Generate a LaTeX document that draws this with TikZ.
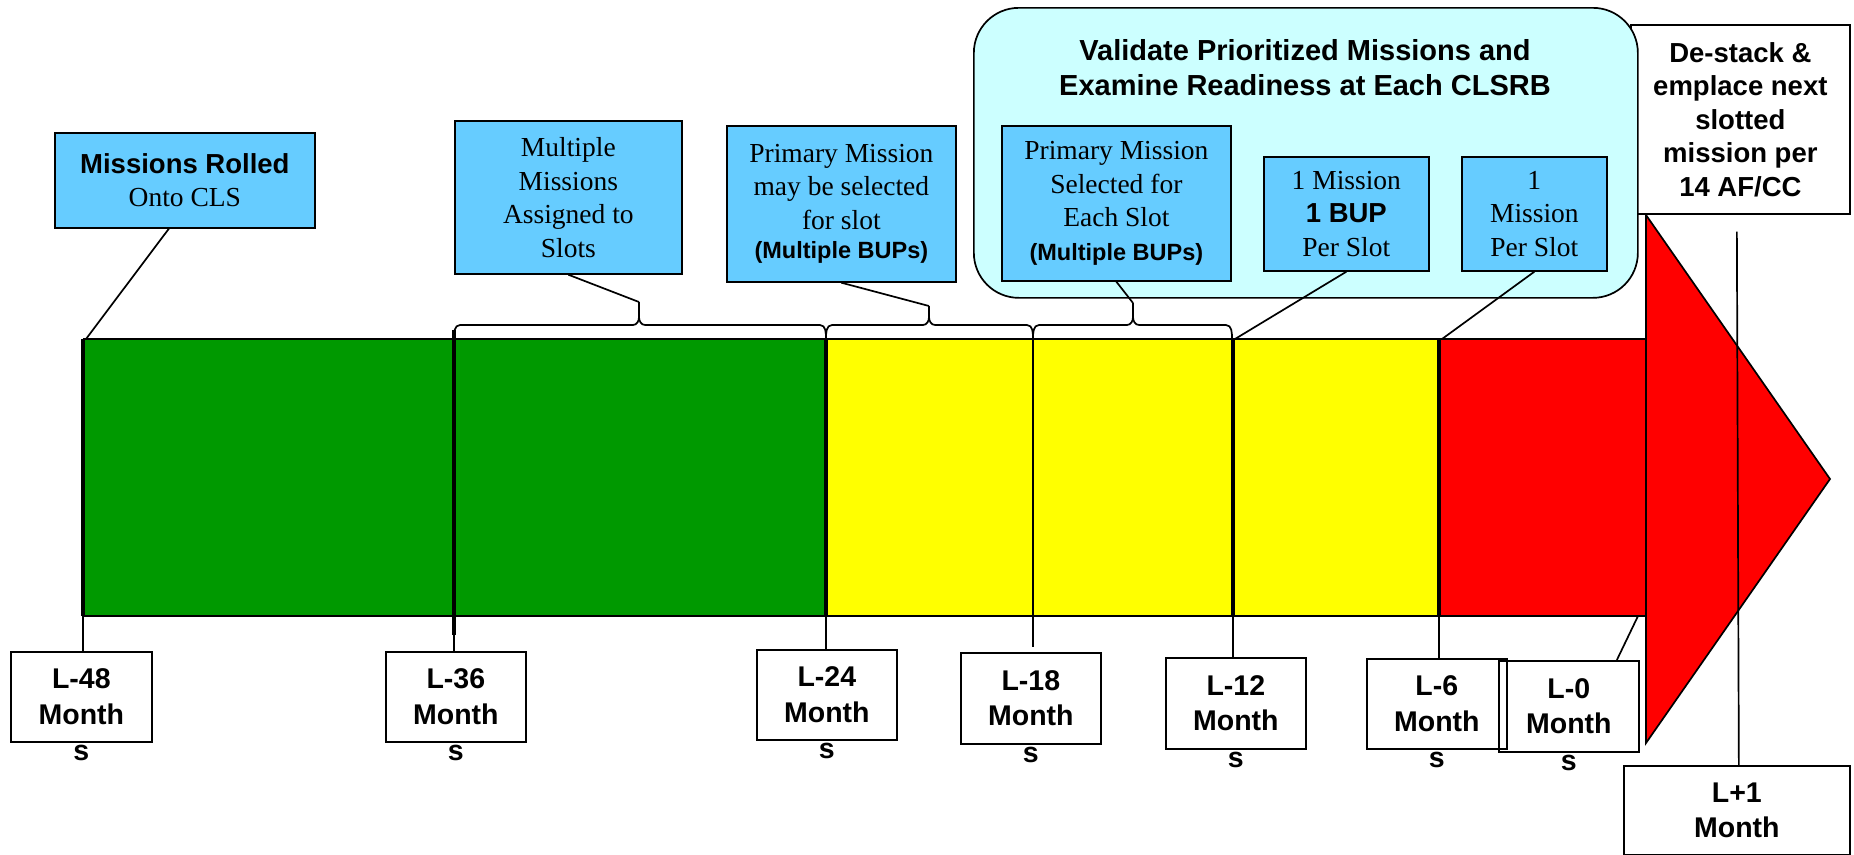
\documentclass[tikz,border=0pt]{standalone}
\usepackage{fontspec}
\setmainfont{Liberation Serif}
\setsansfont{Liberation Sans}
\definecolor{barGreen}{HTML}{009900}
\definecolor{barYellow}{HTML}{FFFF00}
\definecolor{barRed}{HTML}{FF0000}
\definecolor{boxBlue}{HTML}{66CCFF}
\definecolor{boxCyan}{HTML}{CCFFFF}
\newcommand\bsf{\sffamily\bfseries}
% brace: left x, right x, tip x, tip coordinate name
\newcommand\tlbrace[4]{%
  \draw[conn] (#1,339) to[out=90,in=180] (#1+6,325) -- (#3-6,325) to[out=0,in=-90] (#3,317) -- (#4);
  \draw[conn] (#2,339) to[out=90,in=0] (#2-6,325) -- (#3+6,325) to[out=180,in=-90] (#3,317);}
\begin{document}
\begin{tikzpicture}[x=1pt,y=-1pt,
  outl/.style={line width=1.7pt},
  conn/.style={line width=1.7pt},
  thicktick/.style={line width=3.8pt},
  bluebox/.style={draw, fill=boxBlue, outl, inner sep=0pt, align=center, anchor=north west,
    font=\fontsize{27.5}{33.5}\selectfont},
  tickbox/.style={draw, outl, inner sep=0pt, align=center, anchor=north west,
    minimum width=140pt, minimum height=90pt, font=\bsf\fontsize{28.5}{35.5}\selectfont},
  sfx/.style={label={[inner sep=0pt, label distance=2pt, font=\bsf\fontsize{28.5}{35.5}\selectfont]below:s}},
  bups/.style={font=\bsf\fontsize{23.5}{33.5}\selectfont}]
\useasboundingbox (0,0) rectangle (1854,854);

% tick positions on bar top
\coordinate (k48) at (83,339);
\coordinate (k36) at (454,339);
\coordinate (k24) at (826,339);
\coordinate (k18) at (1033,339);
\coordinate (k12) at (1233,339);
\coordinate (k6) at (1439,339);
\coordinate (kend) at (1645,339);
\coordinate (bb) at (0,616);

% bar
\fill[barGreen] (k48) rectangle (k24 |- bb);
\fill[barYellow] (k24) rectangle (k6 |- bb);
\fill[barRed] (k6) rectangle (kend |- bb);
\draw[outl] (k48) -- (kend);
\draw[outl] (k48 |- bb) -- (kend |- bb);
% arrow head
\coordinate (ah1) at (1646,215);
\coordinate (ah2) at (1830,479);
\coordinate (ah3) at (1646,743);
\filldraw[fill=barRed, outl, line join=miter] (ah1) -- (ah2) -- (ah3) -- cycle;

% thick ticks in bar
\draw[line width=4.2pt] (k48) -- (k48 |- bb);
\draw[line width=4.2pt] (454,330) -- (454,635);
\draw[thicktick] (k24) -- (k24 |- bb);
\draw[line width=2.8pt] (k18) -- (k18 |- bb);
\draw[thicktick] (k12) -- (k12 |- bb);
\draw[thicktick] (k6) -- (k6 |- bb);

% braces
\coordinate (b1) at (639,302);
\coordinate (b2) at (929,306);
\coordinate (b3) at (1133,303);
\tlbrace{454}{826}{639}{b1}
\tlbrace{826}{1033}{929}{b2}
\tlbrace{1033}{1232}{1133}{b3}

% de-stack box
\node[draw, fill=white, outl, inner sep=0pt, align=center, anchor=north west,
  minimum width=219pt, minimum height=189pt,
  font=\bsf\fontsize{27.5}{33.5}\selectfont] (ds) at (1630,24)
  {De-stack \&\\emplace next\\slotted\\mission per\\14 AF/CC};

% cyan group box
\node[draw, fill=boxCyan, outl, rounded corners=45pt, anchor=north west,
  minimum width=664pt, minimum height=290pt, inner sep=0pt] (cy) at (973,7) {};
\node[font=\bsf\fontsize{29}{35}\selectfont, align=center, anchor=north, inner sep=0pt] (tt) at (1305,39)
  {Validate Prioritized Missions and\\Examine Readiness at Each CLSRB};

% blue boxes
\node[bluebox, minimum width=260pt, minimum height=95pt] (mr) at (54,132)
  {{\bsf Missions Rolled}\\Onto CLS};
\node[bluebox, minimum width=227pt, minimum height=153pt] (mm) at (454,120)
  {Multiple\\Missions\\Assigned to\\Slots};
\node[bluebox, minimum width=229pt, minimum height=156pt] (pm) at (726,125)
  {Primary Mission\\may be selected\\for slot\\[-4pt]{\bsf\fontsize{23.5}{33.5}\selectfont (Multiple BUPs)}};
\node[bluebox, minimum width=229pt, minimum height=155pt] (ip) at (1001,125)
  {Primary Mission\\Selected for\\Each Slot\\{\bsf\fontsize{23.5}{33.5}\selectfont (Multiple BUPs)}};
\node[bluebox, minimum width=165pt, minimum height=114pt] (ob) at (1263,156)
  {1 Mission\\{\bsf 1 BUP}\\Per Slot};
\node[bluebox, minimum width=145pt, minimum height=114pt] (om) at (1461,156)
  {1\\Mission\\Per Slot};

% top connectors
\draw[conn] ([xshift=-16pt]mr.south) -- ([xshift=3pt]k48);
\draw[conn] (mm.south) -- (b1);
\draw[conn] (pm.south) -- (b2);
\draw[conn] (ip.south) -- (b3);
\draw[conn] (ob.south) -- ([xshift=2pt]k12);
\draw[conn] (om.south) -- ([xshift=3pt]k6);

% bottom boxes
\node[tickbox, sfx, minimum width=141pt] (l48) at (10,651) {L-48\\Month};
\node[tickbox, sfx] (l36) at (385,651) {L-36\\Month};
\node[tickbox, sfx] (l24) at (756,649) {L-24\\Month};
\node[tickbox, sfx, minimum height=91pt] (l18) at (960,652) {L-18\\Month};
\node[tickbox, sfx, minimum height=91pt] (l12) at (1165,657) {L-12\\Month};
\node[tickbox, sfx] (l6) at (1366,658) {L-6\\Month};
\node[tickbox, sfx, minimum height=91pt] (l0) at (1498,660) {L-0\\Month};
\node[tickbox, minimum width=226pt, minimum height=0pt, inner ysep=17pt] (lp1) at (1623,765) {L+1\\Month};

% bottom connectors
\draw[conn] (k48 |- bb) -- (k48 |- l48.north);
\draw[conn] (454,635) -- (k36 |- l36.north);
\draw[conn] (k24 |- bb) -- (k24 |- l24.north);
\draw[conn] (k18 |- bb) -- ([yshift=5pt]k18 |- l18.north);
\draw[conn] (k12 |- bb) -- (k12 |- l12.north);
\draw[conn] (k6 |- bb) -- (k6 |- l6.north);
\draw[conn] ([xshift=-7pt]kend |- bb) -- ([xshift=48pt]l0.north);
\draw[conn] ([yshift=-17pt]ds.south -| lp1.north) -- ([xshift=2pt]lp1.north);
\end{tikzpicture}
\end{document}
